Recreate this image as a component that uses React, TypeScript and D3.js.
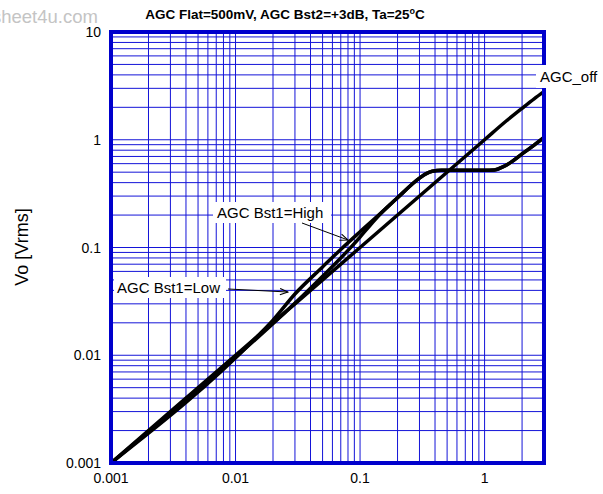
import React from "react";
import * as d3 from "d3";

const W = 603;
const H = 494;

const titleText = "AGC Flat=500mV, AGC Bst2=+3dB, Ta=25";
const yAxisTitle = "Vo [Vrms]";

const xDomain = [0.001, 3];
const yDomain = [0.001, 10];
const xTicks = [0.001, 0.01, 0.1, 1];
const xTickLabels = ["0.001", "0.01", "0.1", "1"];
const yTicks = [0.001, 0.01, 0.1, 1, 10];
const yTickLabels = ["0.001", "0.01", "0.1", "1", "10"];

// AGC_off
const offX = [0.001, 0.01, 0.1, 1, 1.5, 2, 2.5, 3];
const offY = [0.001, 0.01, 0.1, 1, 1.5, 1.96, 2.4, 2.8];

// AGC Bst1=High (early boost)
const highX = [0.001, 0.015, 0.02, 0.03, 0.05, 0.07, 0.1, 0.15, 0.2, 0.3, 0.34, 0.38, 0.45, 0.6, 1.0, 1.2, 1.4, 1.6, 2.0, 2.5, 3.0];
const highY = [0.001, 0.015, 0.0212, 0.037, 0.066, 0.096, 0.14, 0.213, 0.29, 0.44, 0.485, 0.51, 0.52, 0.52, 0.52, 0.525, 0.56, 0.61, 0.74, 0.89, 1.05];

// AGC Bst1=Low (late boost)
const lowX = [0.001, 0.025, 0.035, 0.05, 0.08, 0.1, 0.12, 0.15, 0.2, 0.3, 0.34, 0.38, 0.45, 0.6, 1.0, 1.2, 1.4, 1.6, 2.0, 2.5, 3.0];
const lowY = [0.001, 0.025, 0.036, 0.054, 0.094, 0.125, 0.16, 0.212, 0.29, 0.44, 0.485, 0.51, 0.52, 0.52, 0.52, 0.525, 0.56, 0.61, 0.74, 0.89, 1.05];

const labelHigh = "AGC Bst1=High";
const labelLow = "AGC Bst1=Low";
const labelOff = "AGC_off";

const M = { left: 111, right: 544, top: 32, bottom: 463 };

export default function App() {
  const x = d3.scaleLog().domain(xDomain).range([M.left, M.right]);
  const y = d3.scaleLog().domain(yDomain).range([M.bottom, M.top]);

  const xGrid: number[] = [];
  for (let e = -3; e <= 0; e++) {
    for (let k = 1; k <= 9; k++) {
      const v = k * Math.pow(10, e);
      if (v > xDomain[0] * 1.0001 && v < xDomain[1] * 0.9999) xGrid.push(v);
    }
  }
  const yGrid: number[] = [];
  for (let e = -3; e <= 0; e++) {
    for (let k = 1; k <= 9; k++) {
      const v = k * Math.pow(10, e);
      if (v > yDomain[0] * 1.0001 && v < yDomain[1] * 0.9999) yGrid.push(v);
    }
  }

  const line = d3
    .line<[number, number]>()
    .x((d) => x(d[0]))
    .y((d) => y(d[1]))
    .curve(d3.curveMonotoneX);

  const series = [
    offX.map((v, i) => [v, offY[i]] as [number, number]),
    highX.map((v, i) => [v, highY[i]] as [number, number]),
    lowX.map((v, i) => [v, lowY[i]] as [number, number]),
  ];

  const gridColor = "#1414d8";
  const font = "Arial, 'Liberation Sans', sans-serif";

  return (
    <svg
      width={W}
      height={H}
      style={{ position: "absolute", left: 0, top: 0, background: "#fff" }}
      fontFamily={font}
    >
      <defs>
        <marker id="arr" viewBox="0 0 10 10" refX="10" refY="5" markerWidth="10" markerHeight="8" orient="auto" markerUnits="userSpaceOnUse">
          <path d="M0,1 L10,5 L0,9" fill="none" stroke="#000" strokeWidth="1.3" />
        </marker>
      </defs>
      <text x={-8} y={23} fontSize={18.5} fill="#c4c4c4">sheet4u.com</text>

      {xGrid.map((v) => (
        <line key={"gx" + v} x1={x(v)} x2={x(v)} y1={M.top} y2={M.bottom} stroke={gridColor} strokeWidth={1} />
      ))}
      {yGrid.map((v) => (
        <line key={"gy" + v} x1={M.left} x2={M.right} y1={y(v)} y2={y(v)} stroke={gridColor} strokeWidth={1} />
      ))}

      {series.map((s, i) => (
        <path key={i} d={line(s) || ""} fill="none" stroke="#000" strokeWidth={3.5} strokeLinejoin="round" strokeLinecap="round" />
      ))}

      <rect x={M.left} y={M.top} width={M.right - M.left} height={M.bottom - M.top} fill="none" stroke="#0000cc" strokeWidth={4} />

      {/* annotation labels */}
      <rect x={213} y={202} width={118} height={21} fill="#fff" />
      <text x={217} y={218} fontSize={15} fill="#000">{labelHigh}</text>
      <line x1={302} y1={223} x2={348} y2={240} stroke="#000" strokeWidth={1} markerEnd="url(#arr)" />

      <rect x={114} y={277} width={112} height={21} fill="#fff" />
      <text x={117} y={293} fontSize={15} fill="#000">{labelLow}</text>
      <line x1={228} y1={289} x2={288} y2={292} stroke="#000" strokeWidth={1} markerEnd="url(#arr)" />

      <rect x={536} y={65} width={67} height={23} fill="#fff" />
      <text x={540} y={82} fontSize={15} fill="#000">{labelOff}</text>

      {/* y tick labels */}
      {yTicks.map((v, i) => (
        <text key={"yt" + v} x={101} y={y(v) + 5} textAnchor="end" fontSize={14} fill="#000">
          {yTickLabels[i]}
        </text>
      ))}
      {/* x tick labels */}
      {xTicks.map((v, i) => (
        <text key={"xt" + v} x={x(v)} y={483} textAnchor="middle" fontSize={14} fill="#000">
          {xTickLabels[i]}
        </text>
      ))}

      <text transform={`translate(28,247) rotate(-90)`} textAnchor="middle" fontSize={18} fill="#000">
        {yAxisTitle}
      </text>

      <text x={285} y={19} textAnchor="middle" fontSize={13.5} fontWeight="bold" fill="#000">
        {titleText}
        <tspan dy={-5} fontSize={9}>o</tspan>
        <tspan dy={5}>C</tspan>
      </text>
    </svg>
  );
}
